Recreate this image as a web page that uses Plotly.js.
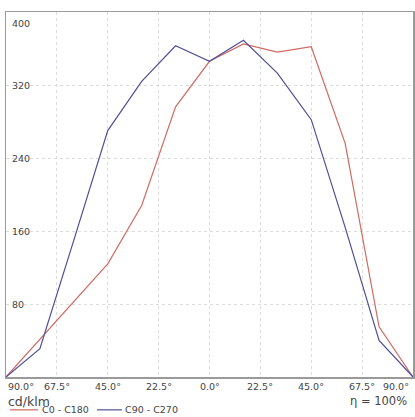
<!DOCTYPE html>
<html>
<head>
<meta charset="utf-8">
<script src="https://cdn.plot.ly/plotly-3.0.1.min.js"></script>
<style>html,body{margin:0;padding:0;background:#fff;}#chart{width:415px;height:417px;}</style>
</head>
<body>
<div id="chart"></div>
<script>
// Angles: negative = left half of the diagram
const angles = [-90, -75, -60, -45, -30, -15, 0, 15, 30, 45, 60, 75, 90];
const c0c180 = [0, 41, 82, 124, 188, 296, 346, 365, 356, 362, 256, 55, 0];
const c90c270 = [0, 31, 150, 270, 324, 363, 346, 369, 333, 282, 164, 40, 0];
const seriesNames = ['C0 - C180', 'C90 - C270'];
const xTickVals = [-90, -67.5, -45, -22.5, 0, 22.5, 45, 67.5, 90];
const xTickText = ['90.0°', '67.5°', '45.0°', '22.5°', '0.0°', '22.5°', '45.0°', '67.5°', '90.0°'];
const yTickVals = [80, 160, 240, 320, 400];
const yTickText = ['80', '160', '240', '320', '400'];
const unitLabel = 'cd/klm';
const effLabel = 'η = 100%';

const FONT = 'DejaVu Sans, sans-serif';
const red = '#cf6a62';
const blue = '#4f4f98';
const colors = [red, blue];

const traces = [
  {x: angles, y: c0c180, name: seriesNames[0], type: 'scatter', mode: 'lines',
   line: {color: red, width: 1.2}, showlegend: false},
  {x: angles, y: c90c270, name: seriesNames[1], type: 'scatter', mode: 'lines',
   line: {color: blue, width: 1.2}, showlegend: false}
];

const annotations = [];
xTickVals.forEach((v, i) => {
  let anchor = 'center';
  if (i === 0) anchor = 'left';
  if (i === xTickVals.length - 1) anchor = 'right';
  annotations.push({x: v, y: 0, xref: 'x', yref: 'y', text: xTickText[i], showarrow: false,
    xanchor: anchor, yanchor: 'top', yshift: -2, xshift: anchor === 'right' ? -2 : 0,
    font: {family: FONT, size: 9.5, color: '#444'}});
});
yTickVals.forEach((v, i) => {
  annotations.push({x: -90, y: v, xref: 'x', yref: 'y', text: yTickText[i], showarrow: false,
    xanchor: 'left', yanchor: 'middle', xshift: 4, yshift: v === 400 ? -11 : 0,
    font: {family: FONT, size: 9.5, color: '#444'}});
});
annotations.push({x: 0.0, y: -0.04, xref: 'paper', yref: 'paper', text: unitLabel, showarrow: false,
  xanchor: 'left', yanchor: 'top', font: {family: FONT, size: 12.5, color: '#444'}});
annotations.push({x: 0.99, y: -0.04, xref: 'paper', yref: 'paper', text: effLabel, showarrow: false,
  xanchor: 'right', yanchor: 'top', font: {family: FONT, size: 11.5, color: '#444'}});

// manual legend (swatch line + label)
const legY = -0.09;
const legSwatch = [[0.0098, 0.0786], [0.2236, 0.285]];
const legTextX = [0.0835, 0.2875];
const shapes = [];
seriesNames.forEach((nm, i) => {
  shapes.push({type: 'line', xref: 'paper', yref: 'paper', x0: legSwatch[i][0], x1: legSwatch[i][1],
    y0: legY, y1: legY, line: {color: colors[i], width: 1.2}});
  annotations.push({x: legTextX[i], y: legY, xref: 'paper', yref: 'paper', text: nm, showarrow: false,
    xanchor: 'left', yanchor: 'middle', font: {family: FONT, size: 9.5, color: '#444'}});
});

const layout = {
  width: 415, height: 417,
  margin: {l: 6, r: 2, t: 12, b: 40, autoexpand: false},
  paper_bgcolor: '#fff', plot_bgcolor: '#fff',
  showlegend: false,
  xaxis: {range: [-90, 90], tickvals: xTickVals, showticklabels: false, ticks: '',
    showgrid: true, gridcolor: '#dcdcdc', griddash: 'dot', gridwidth: 1,
    zeroline: false, showline: true, mirror: true, linecolor: '#9a9a9a', linewidth: 1.5,
    fixedrange: true, automargin: false},
  yaxis: {range: [0, 400], tickvals: yTickVals, showticklabels: false, ticks: '',
    showgrid: true, gridcolor: '#dcdcdc', griddash: 'dot', gridwidth: 1,
    zeroline: false, showline: true, mirror: true, linecolor: '#9a9a9a', linewidth: 1.5,
    fixedrange: true, automargin: false},
  shapes: shapes,
  annotations: annotations
};

Plotly.newPlot('chart', traces, layout, {displayModeBar: false, staticPlot: true});
</script>
</body>
</html>
